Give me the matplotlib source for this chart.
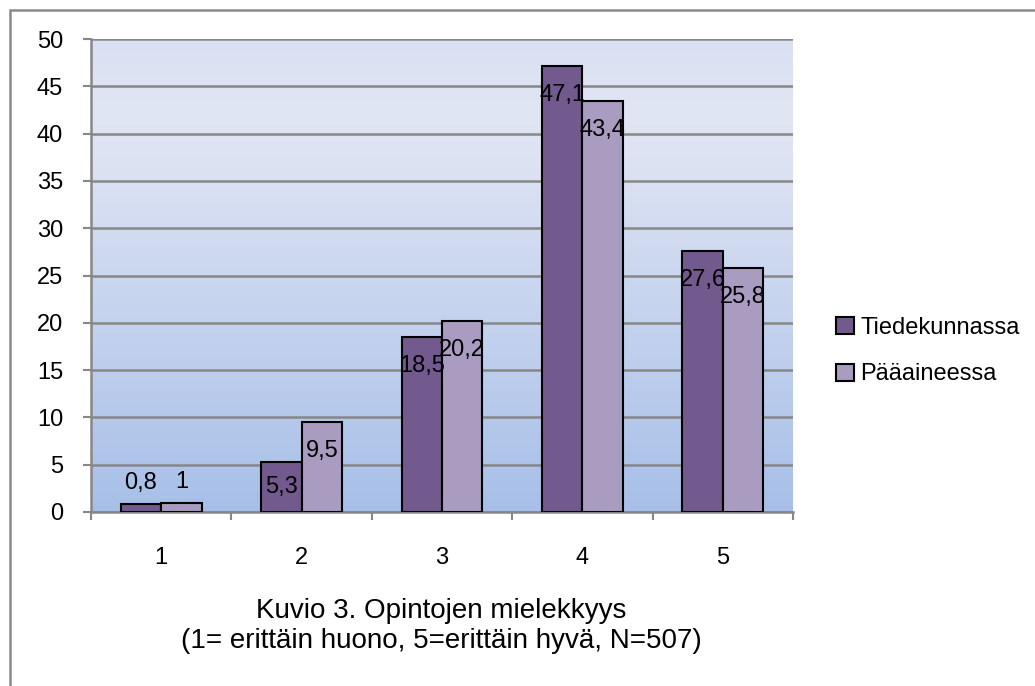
import numpy as np
import matplotlib
matplotlib.use("Agg")
import matplotlib.pyplot as plt
from matplotlib.patches import Patch, Rectangle
from matplotlib.colors import LinearSegmentedColormap

plt.rcParams['font.family'] = ['Liberation Sans', 'DejaVu Sans']

categories = ["1", "2", "3", "4", "5"]
tiedekunnassa = [0.8, 5.3, 18.5, 47.1, 27.6]
paaaineessa = [1, 9.5, 20.2, 43.4, 25.8]
series_names = ["Tiedekunnassa", "Pääaineessa"]
caption = "Kuvio 3. Opintojen mielekkyys\n(1= erittäin huono, 5=erittäin hyvä, N=507)"

DARK = "#725a8e"
LIGHT = "#a99cc0"
GRID = "#878787"
FS = 17

W, H = 1035, 686
fig = plt.figure(figsize=(W / 100, H / 100), dpi=100)

# outer frame of the chart object (right/bottom fall outside the image)
fig.patches.append(Rectangle((10 / W, -0.1), 1.2, (H - 10) / H + 0.1, transform=fig.transFigure,
                             fill=False, edgecolor="#8a8a8a", linewidth=1.8))

ax = fig.add_axes([91 / W, (H - 512) / H, (793 - 91) / W, (512 - 39) / H])

# plot area gradient
grad = LinearSegmentedColormap.from_list(
    "bg", [(0, "#a7bfe8"), (0.75, "#dde3f3"), (0.85, "#e1e6f4"), (1, "#d8e0f2")])
ax.imshow(np.linspace(0, 1, 256).reshape(-1, 1), aspect="auto", cmap=grad,
          extent=[0.5, 5.5, 0, 50], origin="lower", zorder=0)

x = np.arange(1, len(categories) + 1)
bw = 0.288
b1 = ax.bar(x - bw / 2, tiedekunnassa, bw, color=DARK, edgecolor="black", linewidth=1.5, zorder=3)
b2 = ax.bar(x + bw / 2, paaaineessa, bw, color=LIGHT, edgecolor="black", linewidth=1.5, zorder=3)

ax.set_xlim(0.5, 5.5)
ax.set_ylim(0, 50)
ax.set_yticks(range(0, 51, 5))
ax.yaxis.grid(True, color=GRID, linewidth=1.8, zorder=1)
ax.set_axisbelow(True)

ax.set_xticks(x)
ax.set_xticklabels(categories)
ax.set_xticks(np.arange(0.5, 6, 1), minor=True)
ax.tick_params(axis="x", which="major", length=0, pad=25, labelsize=FS)
ax.tick_params(axis="x", which="minor", length=6, width=1.5, color=GRID, direction="out")
ax.tick_params(axis="y", length=6, width=1.5, color=GRID, pad=14, labelsize=FS)

for s in ["top", "right"]:
    ax.spines[s].set_visible(False)
for s in ["left", "bottom"]:
    ax.spines[s].set_color(GRID)
    ax.spines[s].set_linewidth(1.8)

# data labels, Finnish decimal comma
px_per_unit = (512 - 39) / 50.0
for bars, vals in [(b1, tiedekunnassa), (b2, paaaineessa)]:
    for rect, v in zip(bars, vals):
        cx = rect.get_x() + rect.get_width() / 2
        txt = ("%g" % v).replace(".", ",")
        h_px = v * px_per_unit
        if v < 2:
            off = 21
        elif h_px < 60:
            off = -h_px / 2
        else:
            off = -29
        ax.annotate(txt, (cx, v), xytext=(0, off * 0.72), textcoords="offset points",
                    ha="center", va="center", fontsize=FS, zorder=5)

handles = [Patch(facecolor=DARK, edgecolor="black", linewidth=1.5),
           Patch(facecolor=LIGHT, edgecolor="black", linewidth=1.5)]
fig.legend(handles, series_names, loc="center left", bbox_to_anchor=(824 / W, (H - 351) / H),
           frameon=False, fontsize=FS, handlelength=0.75, handleheight=0.75,
           handletextpad=0.3, labelspacing=1.05, borderpad=0)

fig.text(441 / W, (H - 626) / H, caption, ha="center", va="center", fontsize=20,
         linespacing=1.2)

fig.savefig("out.png", dpi=100)
